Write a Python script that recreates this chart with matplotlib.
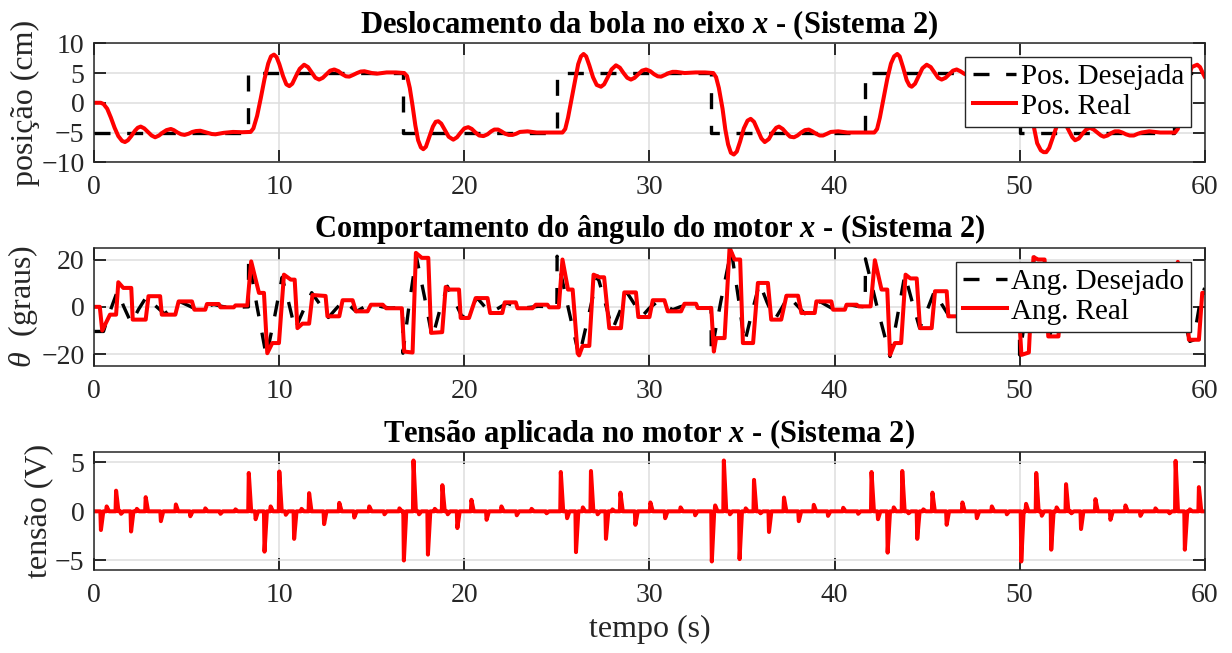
import numpy as np
import matplotlib
matplotlib.use("Agg")
import matplotlib.pyplot as plt

plt.rcParams["font.family"] = ["Liberation Serif", "DejaVu Serif"]
plt.rcParams["mathtext.fontset"] = "custom"
plt.rcParams["mathtext.rm"] = "Liberation Serif"
plt.rcParams["mathtext.it"] = "Liberation Serif:italic"
plt.rcParams["mathtext.bf"] = "Liberation Serif:bold"
plt.rcParams["mathtext.bfit"] = "Liberation Serif:bold:italic"

# ---- posicao da bola (cm) ----
ref_t = [0, 8.33, 16.67, 25.0, 33.33, 41.67, 50.0, 58.33, 60]
ref_pos = [-5, 5, -5, 5, -5, 5, -5, 5, 5]

# (t, x) da posicao real
pos_real = np.array([
    (0, 0), (0.35, 0), (0.5, -0.2), (0.7, -1.0), (0.9, -2.5), (1.1, -4.2), (1.3, -5.6),
    (1.5, -6.4), (1.66, -6.6), (1.82, -6.3), (2.0, -5.6), (2.2, -4.7), (2.35, -4.2),
    (2.51, -4.0), (2.7, -4.3), (2.9, -4.9), (3.1, -5.5), (3.29, -5.8), (3.5, -5.5),
    (3.7, -5.0), (3.9, -4.6), (4.14, -4.4), (4.3, -4.6), (4.5, -5.0), (4.7, -5.3),
    (4.88, -5.4), (5.1, -5.2), (5.3, -4.9), (5.5, -4.75), (5.73, -4.7), (5.95, -4.9),
    (6.15, -5.1), (6.35, -5.25), (6.55, -5.3), (7.0, -5.05), (7.5, -4.9), (8.0, -4.95),
    (8.45, -4.9),
    (8.6, -4.3), (8.8, -2.2), (9.0, 0.8), (9.2, 4.0), (9.4, 6.6), (9.55, 7.8), (9.71, 8.1),
    (9.85, 7.7), (10.0, 6.5), (10.2, 4.5), (10.38, 3.1), (10.54, 2.8), (10.7, 3.2),
    (10.9, 4.5), (11.1, 5.7), (11.34, 6.4), (11.55, 6.0), (11.75, 5.1), (11.95, 4.2),
    (12.15, 3.9), (12.35, 4.2), (12.55, 4.8), (12.75, 5.4), (12.97, 5.6), (13.2, 5.3),
    (13.4, 4.8), (13.6, 4.45), (13.78, 4.4), (14.0, 4.7), (14.2, 5.0), (14.4, 5.25),
    (14.6, 5.3), (15.0, 5.0), (15.3, 4.9), (15.8, 5.1), (16.3, 5.1), (16.75, 5.0),
    (16.9, 4.5), (17.05, 2.5), (17.2, -0.5), (17.35, -3.8), (17.5, -6.3), (17.65, -7.5),
    (17.78, -7.8), (17.92, -7.4), (18.1, -5.8), (18.3, -4.0), (18.45, -3.2), (18.59, -3.1),
    (18.75, -3.5), (18.95, -4.6), (19.15, -5.7), (19.4, -6.2), (19.6, -5.8), (19.8, -5.0),
    (20.0, -4.3), (20.21, -4.1), (20.4, -4.4), (20.6, -5.0), (20.8, -5.5), (21.03, -5.6),
    (21.25, -5.3), (21.45, -4.8), (21.62, -4.5), (21.82, -4.5), (22.0, -4.8), (22.2, -5.2),
    (22.4, -5.4), (22.6, -5.4), (22.8, -5.2), (23.0, -4.9), (23.41, -4.8), (23.9, -5.0),
    (24.5, -5.0), (25.3, -5.0),
    (25.45, -4.4), (25.6, -2.5), (25.8, 0.8), (26.0, 4.0), (26.15, 6.5), (26.3, 7.8),
    (26.44, 8.2), (26.58, 7.8), (26.75, 6.3), (26.95, 4.3), (27.15, 3.0), (27.38, 2.7),
    (27.55, 3.1), (27.75, 4.3), (27.95, 5.6), (28.19, 6.3), (28.4, 5.9), (28.6, 5.0),
    (28.8, 4.2), (29.0, 3.9), (29.2, 4.2), (29.4, 4.8), (29.6, 5.4), (29.82, 5.6),
    (30.05, 5.3), (30.25, 4.8), (30.45, 4.45), (30.63, 4.4), (30.85, 4.7), (31.05, 5.0),
    (31.25, 5.2), (31.44, 5.2), (31.9, 5.0), (32.5, 5.1), (33.0, 5.1), (33.45, 5.0),
    (33.6, 4.3), (33.75, 2.5), (33.95, -1.0), (34.1, -4.5), (34.25, -7.0), (34.4, -8.4),
    (34.56, -8.7), (34.72, -8.2), (34.9, -6.5), (35.1, -4.3), (35.3, -3.0), (35.47, -2.7),
    (35.65, -3.2), (35.85, -4.6), (36.05, -6.0), (36.23, -6.6), (36.45, -6.1), (36.65, -5.0),
    (36.85, -4.2), (37.0, -4.0), (37.2, -4.4), (37.4, -5.1), (37.6, -5.7), (37.81, -5.8),
    (38.0, -5.5), (38.2, -5.0), (38.4, -4.6), (38.61, -4.5), (38.8, -4.8), (39.0, -5.2),
    (39.2, -5.5), (39.38, -5.5), (39.6, -5.2), (39.8, -4.9), (40.2, -4.8), (40.7, -5.0),
    (41.3, -5.0), (42.15, -5.0),
    (42.3, -4.4), (42.45, -2.5), (42.65, 0.8), (42.85, 4.0), (43.05, 6.6), (43.22, 7.8),
    (43.39, 8.2), (43.52, 7.8), (43.7, 6.0), (43.9, 3.8), (44.05, 2.9), (44.17, 2.7),
    (44.35, 3.2), (44.55, 4.5), (44.75, 5.8), (44.98, 6.4), (45.2, 6.0), (45.4, 5.1),
    (45.6, 4.2), (45.79, 3.9), (46.0, 4.2), (46.2, 4.8), (46.4, 5.4), (46.6, 5.6),
    (46.8, 5.3), (47.0, 4.9), (47.2, 4.6), (47.4, 4.5), (47.6, 4.7), (47.8, 5.0),
    (48.0, 5.2), (48.2, 5.2), (48.8, 5.0), (49.5, 5.0), (50.1, 5.0),
    (50.25, 4.3), (50.4, 2.5), (50.6, -1.0), (50.8, -4.5), (50.95, -6.8), (51.15, -8.0),
    (51.3, -8.3), (51.44, -8.3), (51.6, -7.6), (51.8, -5.8), (52.0, -4.0), (52.15, -3.2),
    (52.3, -3.0), (52.45, -3.4), (52.65, -4.6), (52.85, -5.8), (53.0, -6.3), (53.2, -6.0),
    (53.4, -5.2), (53.6, -4.5), (53.8, -4.2), (54.0, -4.5), (54.2, -5.0), (54.4, -5.5),
    (54.55, -5.7), (54.75, -5.5), (54.95, -5.1), (55.15, -4.8), (55.36, -4.8), (55.55, -5.0),
    (55.75, -5.3), (55.95, -5.5), (56.17, -5.5), (56.4, -5.2), (56.6, -5.0), (57.0, -4.8),
    (57.6, -5.0), (58.4, -5.0),
    (58.55, -4.4), (58.7, -2.5), (58.9, 0.8), (59.1, 4.0), (59.3, 6.0), (59.45, 6.2),
    (59.6, 6.4), (59.75, 6.0), (59.9, 5.0), (60.0, 4.4),
])

# ---- angulo do motor (graus) ----
ang_ref_t = [0, 0.5, 0.8, 1.25, 1.6, 2.0, 2.4, 2.84, 3.3, 3.8, 4.2, 4.6, 5.1, 5.55, 6.0, 6.46,
             6.9, 7.3, 8.33,
             8.34, 8.8, 9.3, 9.75, 10.15, 10.5, 10.85, 11.3, 11.75, 12.2, 12.65, 13.1, 13.5,
             13.8, 14.15, 14.6, 15.1, 15.55, 16.0, 16.66,
             16.68, 17.0, 17.4, 17.85, 18.27, 18.65, 19.08, 19.5, 19.9, 20.3, 20.7, 21.05, 21.4,
             21.85, 22.3, 22.65, 23.05, 24.0, 25.0,
             25.01, 25.6, 26.2, 26.7, 27.2, 27.6, 28.0, 28.4, 28.8, 29.2, 29.6, 30.0, 30.45,
             30.85, 31.26, 31.65, 32.07, 32.5, 32.9, 33.33,
             33.34, 33.85, 34.42, 34.8, 35.14, 35.55, 35.95, 36.35, 36.77, 37.15, 37.5, 37.95,
             38.4, 38.8, 39.2, 39.6, 40.0, 40.4, 40.8, 41.2, 41.66,
             41.67, 42.3, 43.0, 43.4, 43.8, 44.2, 44.6, 45.0, 45.4, 45.8, 46.2, 46.6, 47.0,
             47.4, 47.8, 48.2, 48.6, 49.0, 49.4, 49.99,
             50.0, 50.4, 50.8, 51.2, 51.6, 52.0, 52.4, 52.8, 53.2, 53.6, 54.0, 54.4, 54.8,
             55.2, 55.6, 56.0, 56.4, 57.3, 58.32,
             58.33, 58.7, 59.2, 59.4, 59.75, 60.0]
ang_ref = [-10.4, -10.4, -3.0, 6.6, 0.0, -6.9, -1.0, 4.5, 0.5, -3.0, -0.3, 2.3, 0.5, -1.2, 0.0, 1.0,
           0.2, -0.3, 0.0,
           20.7, 0.0, -21.0, -4.0, 12.5, 2.0, -9.5, -1.5, 6.0, 1.0, -4.5, -0.5, 2.8,
           0.5, -2.0, 0.0, 1.0, 0.0, -0.5, -0.3,
           -19.6, 0.0, 21.4, 4.0, -13.2, -2.0, 8.7, 2.0, -4.7, -0.5, 3.7, 0.5, -2.6,
           -0.5, 1.6, 0.5, -0.6, 0.2, 0.0,
           21.4, 0.0, -21.0, -4.0, 13.0, 2.0, -9.7, -2.0, 5.9, 1.0, -4.0, -0.5, 2.3,
           0.5, -1.2, 0.0, 0.9, 0.2, -0.5, -0.3,
           -19.6, 2.0, 24.0, 4.0, -15.3, -2.0, 10.0, 2.0, -5.4, -0.5, 4.5, 0.8,
           -2.9, -0.3, 2.3, 0.5, -1.2, 0.0, 0.9, 0.3, 0.0,
           20.3, 0.0, -21.0, -4.0, 13.6, 2.0, -9.0, -1.5, 6.6, 1.0, -4.0, -0.5, 2.8,
           0.5, -1.9, 0.0, 0.9, 0.2, -0.5, 0.0,
           -20.3, 0.0, 21.0, 4.0, -13.0, -2.0, 8.4, 2.0, -4.7, -0.5, 3.7, 0.5, -2.6,
           -0.5, 1.6, 0.5, -0.6, 0.2, 0.0,
           21.0, 0.0, -14.6, -14.0, 2.0, 8.0]

ang_t = [0, 0.3, 0.43, 0.85, 1.18, 1.3, 1.57, 2.0, 2.08, 2.78, 2.93, 3.56, 3.65, 4.38, 4.56, 5.28,
         5.41, 6.0, 6.09, 6.73, 6.82, 7.54, 7.63, 8.27,
         8.48, 8.9, 9.17, 9.35, 9.62, 9.98, 10.25, 10.62, 10.83, 10.98, 11.25, 11.61, 11.79,
         12.5, 12.6, 13.24, 13.42, 13.96, 14.14, 14.77, 14.95, 15.59, 15.77, 16.62,
         16.75, 17.2, 17.38, 17.7, 18.05, 18.2, 18.8, 18.99, 19.2, 19.71, 19.8, 20.25, 20.61,
         21.25, 21.39, 22.05, 22.18, 22.78, 22.87, 23.68, 23.86, 24.49, 24.58, 25.1,
         25.3, 25.6, 25.85, 26.12, 26.2, 26.39, 26.75, 26.98, 27.3, 27.55, 27.83, 28.46, 28.64,
         29.27, 29.4, 30.0, 30.18, 30.81, 30.99, 31.71, 31.89, 32.52, 32.61, 33.34,
         33.48, 33.6, 34.06, 34.33, 34.6, 34.9, 35.05, 35.6, 35.86, 36.4, 36.58, 37.12, 37.4,
         38.03, 38.21, 38.93, 39.02, 39.83, 39.92, 40.56, 40.65, 41.2, 41.3, 41.95,
         42.18, 42.54, 42.85, 43.0, 43.26, 43.6, 43.84, 44.1, 44.44, 44.62, 45.25, 45.43, 46.06,
         46.15, 46.7, 46.9, 47.6, 47.7, 48.4, 48.5, 49.2, 49.3, 49.95,
         50.1, 50.5, 50.75, 51.0, 51.35, 51.55, 52.1, 52.3, 52.9, 53.0, 53.6, 53.8, 54.5,
         54.6, 55.3, 55.4, 56.0, 56.1, 56.9, 57.0, 57.7, 57.8, 58.35,
         58.55, 58.75, 58.95, 59.15, 59.69, 59.87, 60.0]
ang_real = [0, 0, -10.0, -3.3, -3.3, 10.4, 8.0, 8.0, -5.4, -5.4, 4.5, 4.5, -3.3, -3.3, 2.3, 2.3,
            -1.2, -1.2, 1.2, 1.2, -0.2, -0.2, 0.6, 0.6,
            19.2, 5.9, 5.9, -19.6, -15.3, -15.3, 13.6, 11.5, 11.5, -9.0, -7.1, -7.1, 5.0,
            4.6, -4.0, -4.0, 2.8, 2.8, -1.9, -1.9, 0.9, 0.9, -0.6, -0.6,
            -18.9, -19.3, 22.8, 20.7, 20.7, -11.0, -10.7, 8.4, 7.3, 7.3, -4.7, -4.7, 3.7,
            3.7, -2.6, -2.6, 1.9, 1.9, -0.6, -0.6, 0.9, 0.9, -0.2, -0.2,
            20.0, 7.3, 7.3, -19.6, -20.5, -16.5, -16.5, 13.6, 12.5, 12.5, -9.0, -9.0, 6.1,
            6.1, -4.3, -4.3, 2.8, 2.8, -1.9, -1.9, 1.3, 1.3, -0.5, -0.5,
            -18.9, -13.2, -13.2, 25.0, 20.0, 20.0, -15.3, -15.3, 10.1, 10.1, -5.4, -5.4, 4.7,
            4.7, -2.6, -2.6, 2.3, 2.3, -1.2, -1.2, 0.9, 0.9, 0.2, 0.2,
            19.7, 7.3, 7.3, -20.3, -15.3, -15.3, 13.6, 12.0, 12.0, -9.0, -9.0, 6.6, 6.6,
            -4.0, -4.0, 2.8, 2.8, -1.9, -1.9, 0.9, 0.9, -0.5, -0.5,
            -20.3, -19.3, 21.0, 20.0, 20.0, -12.5, -12.5, 8.4, 7.3, -4.7, -4.7, 3.7, 3.7,
            -2.6, -2.6, 1.9, 1.9, -0.6, -0.6, 0.9, 0.9, -0.2, -0.2,
            19.0, 7.0, 7.0, -13.9, -13.9, 5.9, 5.9]

# ---- tensao aplicada (V): instantes e amplitudes dos picos ----
spike_t = [0.36, 0.67, 1.18, 1.45, 1.99, 2.3, 2.78, 3.6, 4.41, 5.19, 6.0, 6.82, 7.63,
           8.35, 8.72, 9.2, 9.53, 10.0, 10.35, 10.8, 11.2, 11.61, 12.42, 13.24, 14.05, 14.86,
           15.68, 16.49,
           16.73, 17.25, 17.55, 18.03, 18.4, 18.81, 19.1, 19.62, 20.38, 21.2, 22.0, 22.83,
           23.63, 24.44,
           25.21, 25.55, 26.03, 26.4, 26.84, 27.2, 27.65, 28.0, 28.43, 29.24, 30.05, 30.85,
           31.68, 32.47,
           33.37, 33.55, 34.02, 34.35, 34.87, 35.2, 35.65, 36.0, 36.46, 37.27, 38.07, 38.88,
           39.65, 40.47, 41.28,
           42.0, 42.35, 42.87, 43.2, 43.66, 44.0, 44.47, 44.8, 45.29, 46.06, 46.91, 47.69,
           48.5, 49.31,
           50.09, 50.35, 50.9, 51.2, 51.71, 52.0, 52.51, 52.8, 53.32, 54.1, 54.91, 55.72,
           56.53, 57.34, 58.1,
           58.43, 58.93, 59.2, 59.69]
spike_v = [-1.9, 0.5, 2.1, -0.25, -2.05, 0.25, 1.44, -1.0, 0.7, -0.5, 0.3, -0.25, 0.2,
           3.9, -0.8, -4.1, 0.5, 4.05, -0.35, -2.8, 0.25, 1.85, -1.3, 0.86, -0.63, 0.5,
           -0.3, 0.3,
           -5.0, 5.17, -0.3, -4.4, 0.25, 2.66, -0.3, -1.7, 1.17, -0.86, 0.5, -0.4,
           0.25, -0.2,
           4.0, -0.7, -4.15, 0.4, 4.1, -0.3, -2.8, 0.2, 1.9, -1.37, 0.9, -0.7,
           0.4, -0.4,
           -5.1, 0.6, 5.17, -0.3, -4.86, 0.3, 3.2, -0.2, -2.1, 1.4, -1.0, 0.66,
           -0.46, 0.36, -0.25,
           4.0, -0.8, -4.2, 0.4, 4.1, -0.2, -2.8, 0.2, 1.9, -1.37, 0.9, -0.7,
           0.5, -0.3,
           -5.1, 0.76, 3.9, -0.45, -3.9, 0.4, 2.76, -0.2, -1.8, 1.24, -0.86, 0.6,
           -0.46, 0.3, -0.2,
           5.13, -3.9, 0.2, 2.46]

# monta o sinal de tensao: zero entre os picos
volt_t = [0.0]
volt_v = [0.0]
for ts, vs in zip(spike_t, spike_v):
    volt_t += [ts - 0.03, ts, ts + 0.13]
    volt_v += [0.0, vs, 0.0]
volt_t.append(60.0)
volt_v.append(0.0)

DARK = "0.15"
TICK_FS = 20
LABEL_FS = 23
TITLE_FS = 22
LEG_FS = 21


def style_axes(ax, ylim, yticks):
    ax.set_xlim(0, 60)
    ax.set_ylim(*ylim)
    ax.set_xticks(np.arange(0, 61, 10))
    ax.set_yticks(yticks)
    ax.grid(True, color="0.87", lw=1.1)
    ax.set_axisbelow(True)
    ax.tick_params(direction="in", length=8.5, width=1.3, top=True, right=True,
                   labelsize=TICK_FS, labelcolor=DARK, color="0.1", pad=7)
    ax.tick_params(axis="x", pad=9)
    for sp in ax.spines.values():
        sp.set_color(DARK)
        sp.set_linewidth(1.1)


def add_legend(ax, anchor):
    ax.legend(loc="upper right", bbox_to_anchor=anchor, borderaxespad=0,
              fontsize=LEG_FS, handlelength=1.5, handletextpad=0.15, borderpad=0.25,
              labelspacing=0.1, fancybox=False, framealpha=1, edgecolor=DARK)


fig = plt.figure(figsize=(12.32, 6.53), dpi=100)
ax1 = fig.add_axes([0.0765, 0.7515, 0.9013, 0.1822])
ax2 = fig.add_axes([0.0765, 0.4395, 0.9013, 0.1812])
ax3 = fig.add_axes([0.0765, 0.1266, 0.9013, 0.1807])

dash = (4.8, 5.0)
RED_LW = 2.9
BLK_LW = 2.4

# posicao
ax1.plot(ref_t, ref_pos, drawstyle="steps-post", color="k", lw=BLK_LW, dashes=dash,
         label="Pos. Desejada")
ax1.plot(pos_real[:, 0], pos_real[:, 1], color="red", lw=RED_LW, solid_joinstyle="round",
         label="Pos. Real")
style_axes(ax1, (-10, 10), [-10, -5, 0, 5, 10])
ax1.set_ylabel("posição (cm)", fontsize=LABEL_FS, color=DARK, labelpad=1)
ax1.set_title(r"Deslocamento da bola no eixo $\mathbfit{x}$ - (Sistema 2)",
              fontsize=TITLE_FS, fontweight="bold", pad=7.5)
add_legend(ax1, (0.988, 0.888))

# angulo
ax2.plot(ang_ref_t, ang_ref, color="k", lw=BLK_LW, dashes=dash, label="Ang. Desejado")
ax2.plot(ang_t, ang_real, color="red", lw=RED_LW, solid_joinstyle="round", label="Ang. Real")
style_axes(ax2, (-25, 25), [-20, 0, 20])
ax2.set_ylabel(r"$\theta$  (graus)", fontsize=LABEL_FS, color=DARK, labelpad=1)
ax2.set_title(r"Comportamento do ângulo do motor $\mathbfit{x}$ - (Sistema 2)",
              fontsize=TITLE_FS, fontweight="bold", pad=7.5)
add_legend(ax2, (0.988, 0.882))

# tensao
ax3.plot(volt_t, volt_v, color="red", lw=RED_LW, solid_joinstyle="round")
style_axes(ax3, (-6, 6), [-5, 0, 5])
ax3.set_ylabel("tensão (V)", fontsize=LABEL_FS, color=DARK, labelpad=1)
ax3.set_title(r"Tensão aplicada no motor $\mathbfit{x}$ - (Sistema 2)",
              fontsize=TITLE_FS, fontweight="bold", pad=7.5)
ax3.set_xlabel("tempo (s)", fontsize=LABEL_FS, color=DARK, labelpad=5)

fig.savefig("out.png", dpi=100)
